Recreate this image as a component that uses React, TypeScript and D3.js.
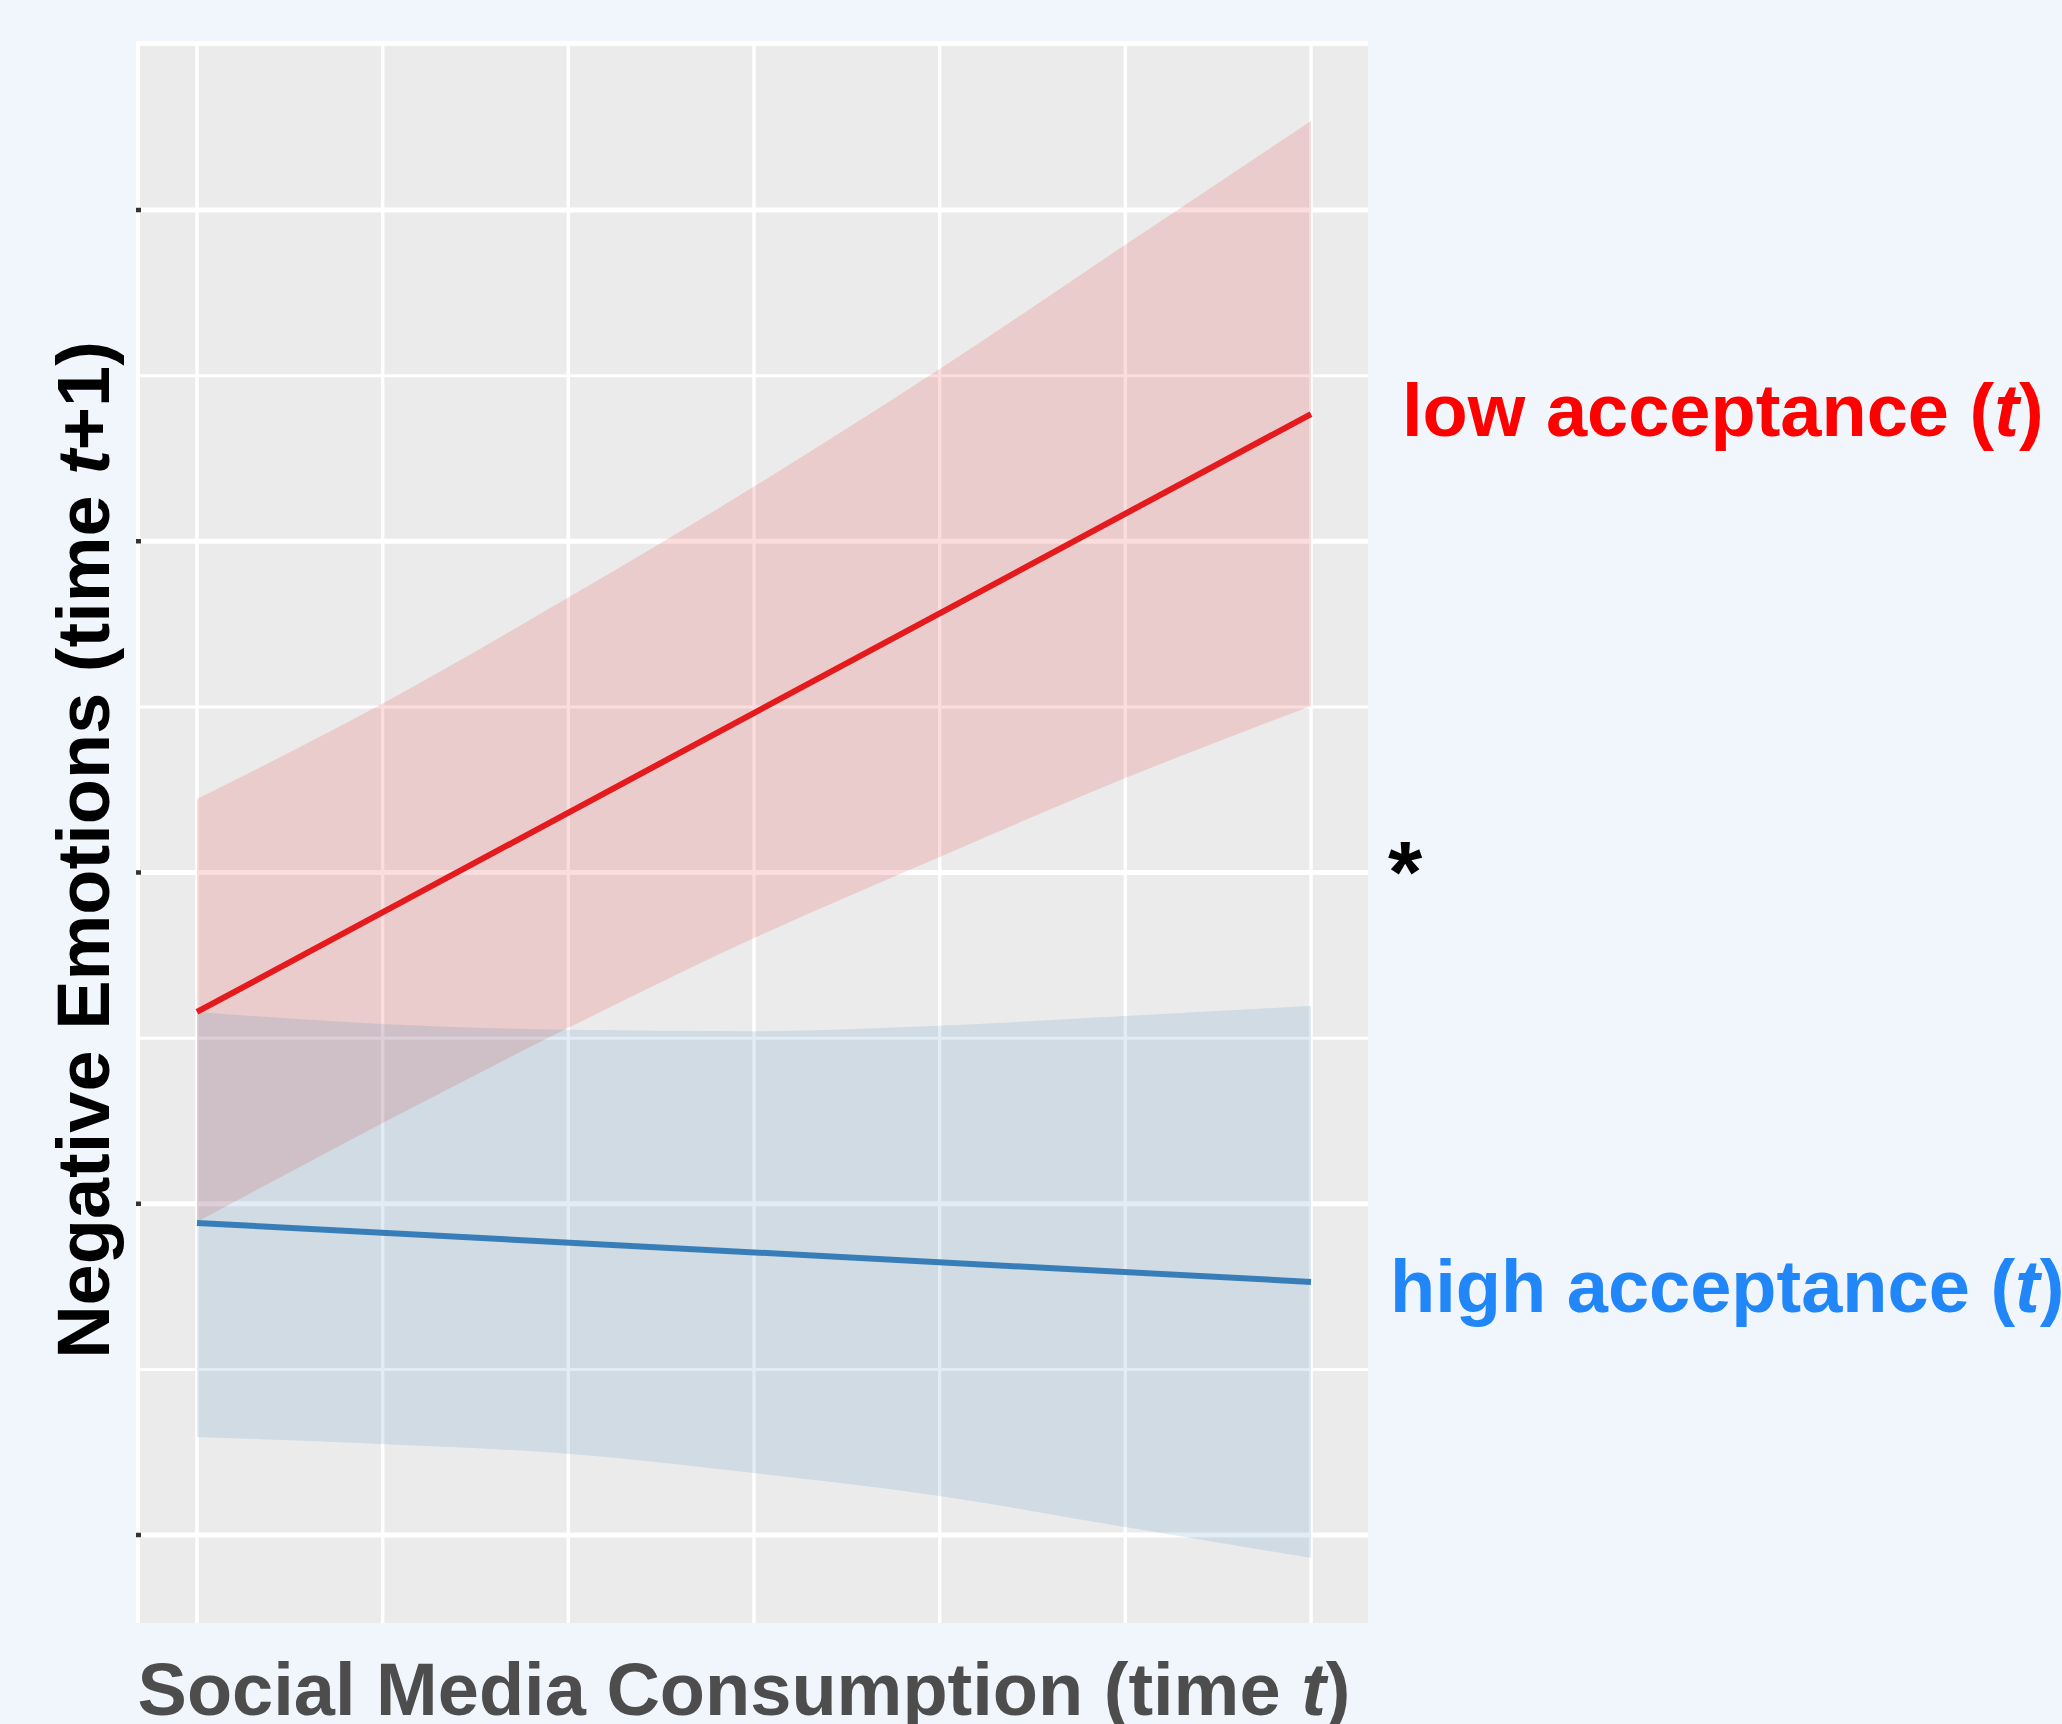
import React from "react";
import * as d3 from "d3";

// ---- data ----
const bandX = [0, 1, 2, 3, 4, 5, 6];
const lowUpper = [3.222, 3.51, 3.83, 4.165, 4.52, 4.895, 5.269];
const lowLower = [1.945, 2.244, 2.531, 2.802, 3.047, 3.285, 3.503];
const highUpper = [2.579, 2.543, 2.525, 2.521, 2.537, 2.567, 2.597];
const highLower = [1.296, 1.275, 1.245, 1.187, 1.118, 1.024, 0.931];
const lineX = [0, 6];
const lowLine = [2.579, 4.384];
const highLine = [1.942, 1.764];
const xGrid = [0, 1, 2, 3, 4, 5, 6];
const yMajor = [1, 2, 3, 4, 5];
const yMinor = [1.5, 2.5, 3.5, 4.5, 5.5];

const W = 2062;
const H = 1724;
const PANEL = { left: 136, right: 1368, top: 41, bottom: 1623 };
const FONT = "'Liberation Sans', Arial, Helvetica, sans-serif";

export default function App() {
  const x = d3.scaleLinear().domain([0, 6]).range([197, 1311]);
  const y = d3.scaleLinear().domain([1, 5]).range([1535, 210]);

  const area = (up: number[], lo: number[]) =>
    d3
      .area<number>()
      .x((d) => x(d))
      .y0((_, i) => y(lo[i]))
      .y1((_, i) => y(up[i]))
      .curve(d3.curveMonotoneX)(bandX) as string;

  const line = (vals: number[]) =>
    d3
      .line<number>()
      .x((d) => x(d))
      .y((_, i) => y(vals[i]))(lineX) as string;

  return (
    <div>
      <style>{`body{margin:0;background:#F1F5FC;}`}</style>
      <svg width={W} height={H} style={{ display: "block", background: "#F1F5FC" }}>
        <defs>
          <clipPath id="panelClip">
            <rect
              x={PANEL.left}
              y={PANEL.top}
              width={PANEL.right - PANEL.left}
              height={PANEL.bottom - PANEL.top}
            />
          </clipPath>
        </defs>
        {/* panel */}
        <rect
          x={PANEL.left}
          y={PANEL.top}
          width={PANEL.right - PANEL.left}
          height={PANEL.bottom - PANEL.top}
          fill="#EBEBEB"
        />
        <g clipPath="url(#panelClip)">
          {yMinor.map((v) => (
            <line
              key={"ym" + v}
              x1={PANEL.left}
              x2={PANEL.right}
              y1={y(v)}
              y2={y(v)}
              stroke="#FFFFFF"
              strokeWidth={3}
            />
          ))}
          {yMajor.map((v) => (
            <line
              key={"yM" + v}
              x1={PANEL.left}
              x2={PANEL.right}
              y1={y(v)}
              y2={y(v)}
              stroke="#FFFFFF"
              strokeWidth={5}
            />
          ))}
          {xGrid.map((v) => (
            <line
              key={"x" + v}
              x1={x(v)}
              x2={x(v)}
              y1={PANEL.top}
              y2={PANEL.bottom}
              stroke="#FFFFFF"
              strokeWidth={3.5}
            />
          ))}
          {/* top and left white edges */}
          <rect x={PANEL.left} y={PANEL.top} width={PANEL.right - PANEL.left} height={5} fill="#FFFFFF" />
          <rect x={PANEL.left} y={PANEL.top} width={4} height={PANEL.bottom - PANEL.top} fill="#FFFFFF" />

          <path d={area(lowUpper, lowLower)} fill="#E41A1C" fillOpacity={0.15} />
          <path d={area(highUpper, highLower)} fill="#377EB8" fillOpacity={0.15} />
          <path d={line(lowLine)} fill="none" stroke="#E41A1C" strokeWidth={6} />
          <path d={line(highLine)} fill="none" stroke="#377EB8" strokeWidth={6} />
        </g>
        {/* y ticks */}
        {yMajor.map((v) => (
          <line
            key={"t" + v}
            x1={PANEL.left}
            x2={PANEL.left + 5}
            y1={y(v)}
            y2={y(v)}
            stroke="#333333"
            strokeWidth={4.5}
          />
        ))}

        {/* axis titles */}
        <text
          transform={`translate(109,850) rotate(-90)`}
          textAnchor="middle"
          fontFamily={FONT}
          fontWeight="bold"
          fontSize={74}
          fill="#000000"
        >
          Negative Emotions (time <tspan fontStyle="italic">t</tspan>+1)
        </text>
        <text
          x={744}
          y={1715}
          textAnchor="middle"
          fontFamily={FONT}
          fontWeight="bold"
          fontSize={74}
          fill="#4D4D4D"
        >
          Social Media Consumption (time <tspan fontStyle="italic">t</tspan>)
        </text>

        {/* series labels */}
        <text x={1402} y={436} fontFamily={FONT} fontWeight="bold" fontSize={74} fill="#FF0000">
          low acceptance (<tspan fontStyle="italic">t</tspan>)
        </text>
        <text x={1388} y={902} fontFamily={FONT} fontWeight="bold" fontSize={88} fill="#000000">
          *
        </text>
        <text x={1390} y={1312} fontFamily={FONT} fontWeight="bold" fontSize={74} fill="#2186F7">
          high acceptance (<tspan fontStyle="italic">t</tspan>)
        </text>
      </svg>
    </div>
  );
}
